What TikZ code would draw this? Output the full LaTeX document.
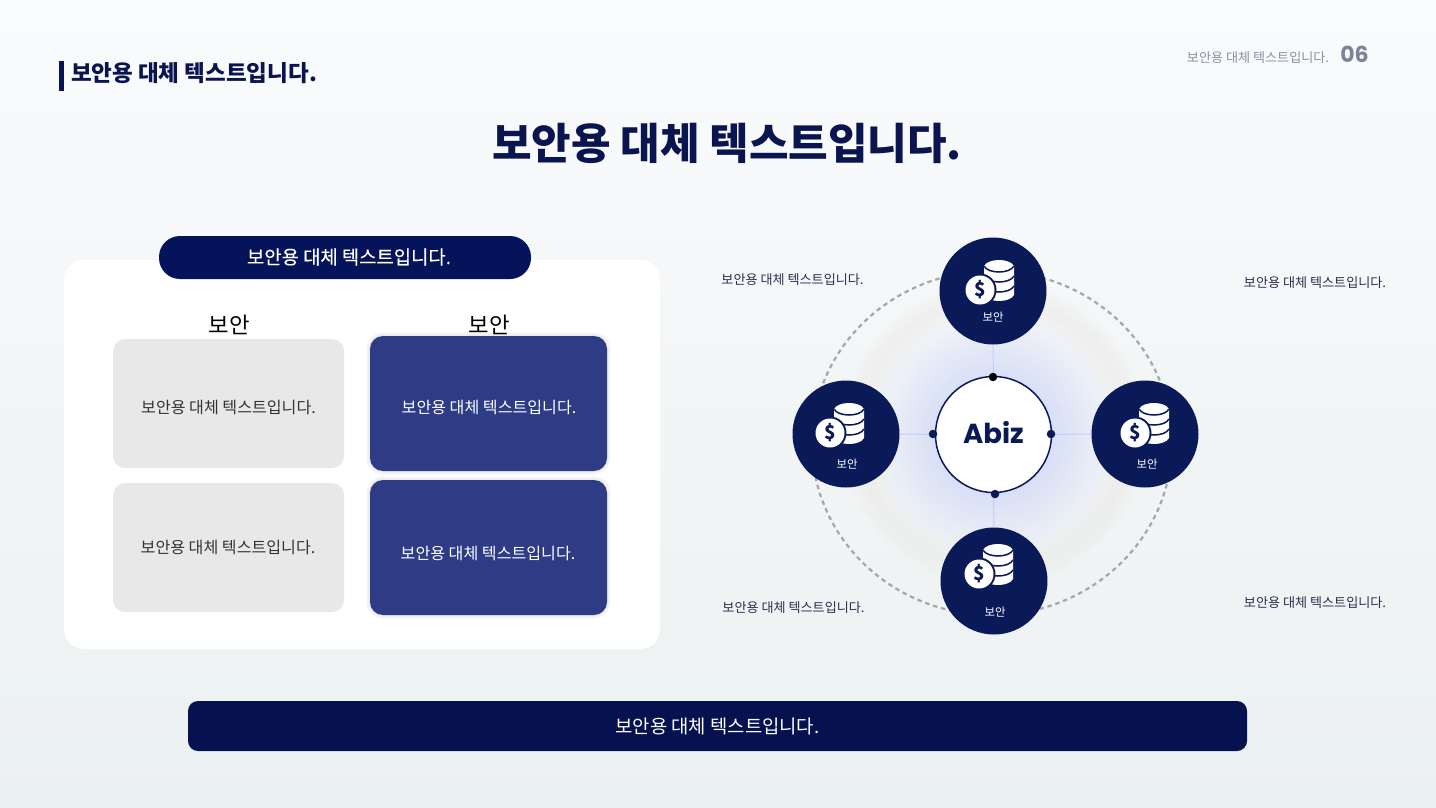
\documentclass[tikz,border=0pt]{standalone}
\usepackage{fontspec}
\setmainfont{Noto Sans CJK KR}
\newfontfamily\numfont{Poppins}
\newfontfamily\medfont[FakeBold=0.25]{Noto Sans CJK KR}
\usetikzlibrary{fadings,backgrounds}
\definecolor{navy}{HTML}{0A1958}
\definecolor{barnavy}{HTML}{05124F}
\definecolor{pillnavy}{HTML}{05135A}
\definecolor{titlenavy}{HTML}{0A154F}
\definecolor{cardblue}{HTML}{2E3C85}
\definecolor{cardgray}{HTML}{E8E8E8}
\definecolor{inktext}{HTML}{2A2F4F}
\definecolor{linkc}{HTML}{C4CDF8}
\definecolor{dashc}{HTML}{A3A7A9}
\definecolor{headgray}{HTML}{8B90A3}
\definecolor{numgray}{HTML}{7D829B}
\definecolor{bgtop}{HTML}{FAFBFC}
\definecolor{bgmid}{HTML}{F3F6F8}
\definecolor{bgbot}{HTML}{EBF0F1}
\definecolor{ringc}{HTML}{E9E8E2}
\tikzfading[name=softglow, inner color=transparent!0, outer color=transparent!100]
\newcommand{\fs}[1]{\fontsize{#1}{#1}\selectfont}
\tikzset{
  every node/.style={inner sep=0pt,outer sep=0pt},
  panelbox/.style={fill=white,rounded corners=20pt},
  graycard/.style={fill=cardgray,rounded corners=12pt},
  bluecard/.style={fill=cardblue,rounded corners=13pt},
  cardshadow/.style={draw=black,opacity=.02,rounded corners=13pt},
  spoke/.style={circle,fill=navy,minimum size=107pt},
  spokelabel/.style={text=white,font=\fs{11.4}},
  hubnode/.style={circle,fill=white,draw=navy,line width=1.5pt,minimum size=116pt,font=\numfont\bfseries\fs{27.5},text=navy},
  dotnode/.style={circle,fill=navy,minimum size=8.5pt},
  sidelabel/.style={text=inktext,font=\fs{13.1}},
  link/.style={draw=linkc,line width=1pt},
  stackicon/.pic={
    \fill[white] (4,-24) .. controls (8,-32) and (30,-32) .. (34,-24) -- (34,5)
       .. controls (30,13) and (8,13) .. (4,5) -- cycle;
    \draw[navy,line width=1.5pt] (4,-24) .. controls (8,-16) and (30,-16) .. (34,-24);
    \draw[navy,line width=1.5pt] (4,-14) .. controls (8,-6) and (30,-6) .. (34,-14);
    \draw[navy,line width=1.5pt] (4,-4) .. controls (8,4) and (30,4) .. (34,-4);
    \fill[navy] (0,0) circle[radius=16.5];
    \fill[white] (0,0) circle[radius=14.5];
    \node[text=navy,font=\bfseries\fs{19}] at (0,0) {\$};
  }
}
\begin{document}
\begin{tikzpicture}[x=1pt,y=-1pt]
\useasboundingbox (0,0) rectangle (1436,808);
\node[spoke] (ntop) at (993,291) {};
\node[spoke] (nleft) at (846,434) {};
\node[spoke] (nright) at (1145,434) {};
\node[spoke] (nbottom) at (994,581) {};
\node[hubnode] (hub) at (993.5,434.5) {\raisebox{4pt}{Abiz}};
\begin{scope}[on background layer]
  \shade[top color=bgtop,middle color=bgmid,bottom color=bgbot] (0,0) rectangle (1436,808);
  \foreach \w in {12,20,28,36}{\draw[ringc,opacity=.11,line width=\w pt] (994,434) circle[radius=134];}
  \fill[linkc,path fading=softglow] (994,434) circle[radius=125];
  \draw[dashc,line width=2.2pt,dash pattern=on 4.5pt off 3.8pt] (992,443) ellipse[x radius=180,y radius=172];
  \draw[link] (hub) -- (ntop);
  \draw[link] (hub) -- (nleft);
  \draw[link] (hub) -- (nright);
  \draw[link] (hub) -- (nbottom);
\end{scope}
\node[dotnode,fill=black] (dtop) at (993,377) {};
\node[dotnode] (dleft) at (933,434) {};
\node[dotnode] (dright) at (1051,434) {};
\node[dotnode] (dbottom) at (995,494) {};
\pic at (980,290) {stackicon};
\pic at (830,433) {stackicon};
\pic at (1135,433) {stackicon};
\pic at (979,574) {stackicon};
\node[spokelabel] (ltop) at (993,317.5) {보안};
\node[spokelabel] (lleft) at (847,464.5) {보안};
\node[spokelabel] (lright) at (1147,464.5) {보안};
\node[spokelabel] (lbottom) at (995,612.5) {보안};
\node[sidelabel] (s1) at (792.5,280) {보안용 대체 텍스트입니다.};
\node[sidelabel] (s2) at (1315,283) {보안용 대체 텍스트입니다.};
\node[sidelabel] (s3) at (793.5,608) {보안용 대체 텍스트입니다.};
\node[sidelabel] (s4) at (1315,603) {보안용 대체 텍스트입니다.};
\fill[titlenavy] (59,61) rectangle (64,91);
\node[anchor=west,text=titlenavy,font=\bfseries\fs{22.5}] (subtitle) at (71,73) {보안용 대체 텍스트입니다.};
\node[text=titlenavy,font=\bfseries\fs{43}] (title) at (727,143.5) {보안용 대체 텍스트입니다.};
\node[text=headgray,font=\fs{13.1}] (headtext) at (1258,58) {보안용 대체 텍스트입니다.};
\node[text=numgray,font=\numfont\bfseries\fs{22}] (pagenum) at (1354.5,54) {06};
\fill[panelbox] (64,260) rectangle (660,649);
\fill[pillnavy,rounded corners=21pt] (159,236) rectangle (531,279);
\node[text=white,font=\medfont\fs{18.8}] (pilltext) at (349,257) {보안용 대체 텍스트입니다.};
\node[text=black,font=\fs{22.3}] (col1) at (229.5,325) {보안};
\node[text=black,font=\fs{22.3}] (col2) at (489,325) {보안};
\fill[graycard] (113,339) rectangle (344,468);
\fill[graycard] (113,483) rectangle (344,612);
\foreach \w in {2,4,6,8}{
  \draw[cardshadow,line width=\w pt] (370,336) rectangle (607,471);
  \draw[cardshadow,line width=\w pt] (370,480) rectangle (607,615);
}
\fill[bluecard] (370,336) rectangle (607,471);
\fill[bluecard] (370,480) rectangle (607,615);
\node[text=black!80,font=\fs{16.1}] (c1) at (228.5,407) {보안용 대체 텍스트입니다.};
\node[text=black!80,font=\fs{16.1}] (c2) at (228,547) {보안용 대체 텍스트입니다.};
\node[text=white,font=\fs{16.1}] (c3) at (489,407) {보안용 대체 텍스트입니다.};
\node[text=white,font=\fs{16.1}] (c4) at (488,553) {보안용 대체 텍스트입니다.};
\fill[barnavy,rounded corners=10pt] (188,701) rectangle (1247,751);
\node[text=white,font=\fs{18.8}] (bartext) at (717.5,726.5) {보안용 대체 텍스트입니다.};
\end{tikzpicture}
\end{document}
